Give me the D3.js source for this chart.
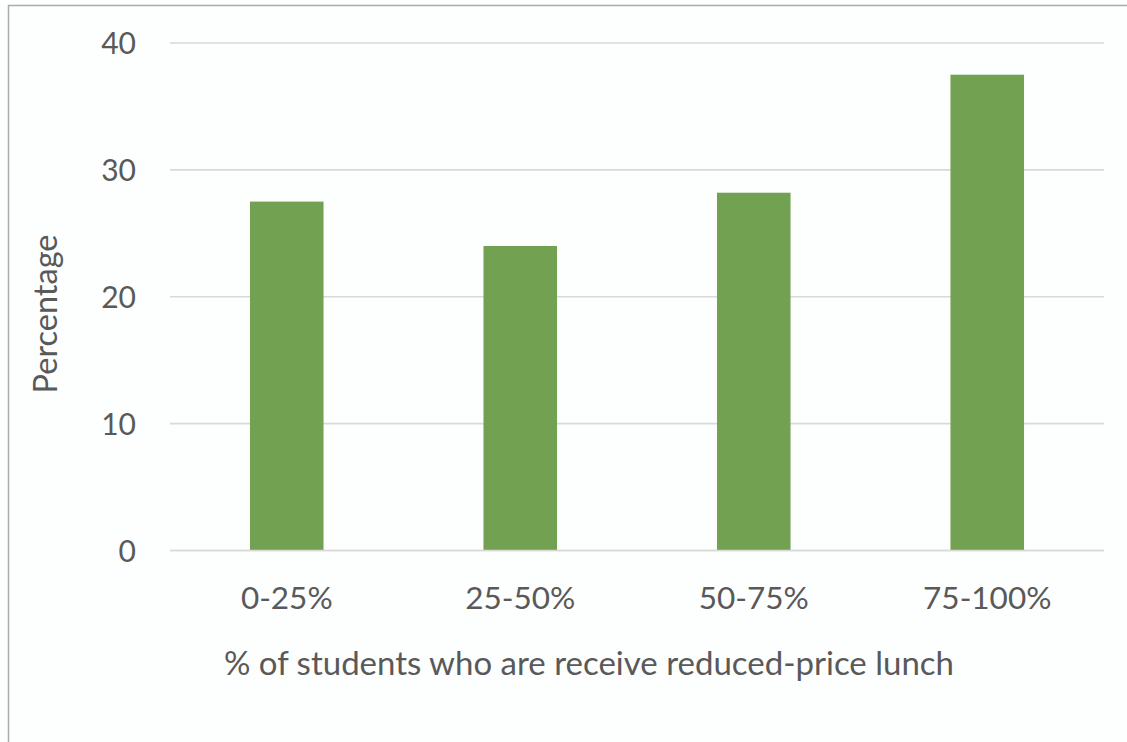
<!DOCTYPE html>
<html>
<head>
<meta charset="utf-8">
<script src="https://d3js.org/d3.v7.min.js"></script>
<style>
  html, body { margin: 0; padding: 0; background: #fdfefe; }
  svg { display: block; }
</style>
</head>
<body>
<svg id="chart" width="1127" height="742"></svg>
<script>
// Share of students by reduced-price lunch bracket
const categories = ["0-25%", "25-50%", "50-75%", "75-100%"];
const values = [27.5, 24.0, 28.2, 37.5];
const yTicks = [0, 10, 20, 30, 40];
const xTitle = "% of students who are receive reduced-price lunch";
const yTitle = "Percentage";

const W = 1127, H = 742;
const plot = { left: 170, right: 1104, top: 43, bottom: 550.5 };
const font = "Lato, 'Open Sans', sans-serif";
const textColor = "#595959";

const svg = d3.select("#chart");

// outer frame (open on the right and bottom edges of the page)
svg.append("path")
  .attr("d", `M8.5,${H} V5.5 H${W}`)
  .attr("fill", "none")
  .attr("stroke", "#ababab")
  .attr("stroke-width", 1.5);

const x = d3.scaleBand()
  .domain(categories)
  .range([plot.left, plot.right])
  .paddingInner(0.685)
  .paddingOuter(0.3425);

const y = d3.scaleLinear()
  .domain([0, 40])
  .range([plot.bottom, plot.top]);

// horizontal gridlines
svg.append("g")
  .selectAll("line")
  .data(yTicks)
  .join("line")
  .attr("x1", plot.left)
  .attr("x2", plot.right)
  .attr("y1", d => y(d))
  .attr("y2", d => y(d))
  .attr("stroke", "#d9d9d9")
  .attr("stroke-width", 1.6);

// bars
svg.append("g")
  .selectAll("rect")
  .data(values)
  .join("rect")
  .attr("x", (d, i) => x(categories[i]))
  .attr("width", x.bandwidth())
  .attr("y", d => y(d))
  .attr("height", d => y(0) - y(d))
  .attr("fill", "#71a151");

// zero line drawn above the bars
svg.append("line")
  .attr("x1", plot.left).attr("x2", plot.right)
  .attr("y1", y(0)).attr("y2", y(0))
  .attr("stroke", "#d9d9d9")
  .attr("stroke-width", 1.6);

// y axis labels
const yAxis = d3.axisLeft(y).tickValues(yTicks).tickSize(0).tickPadding(0);
const gy = svg.append("g")
  .attr("transform", `translate(136,0)`)
  .call(yAxis);
gy.select(".domain").remove();
gy.selectAll("text")
  .attr("font-family", font)
  .attr("font-size", 30)
  .attr("fill", textColor)
  .attr("dy", "0.35em");

// x axis labels
const xAxis = d3.axisBottom(x).tickSize(0).tickPadding(0);
const gx = svg.append("g")
  .attr("transform", `translate(0,598)`)
  .call(xAxis);
gx.select(".domain").remove();
gx.selectAll("text")
  .attr("font-family", font)
  .attr("font-size", 31.5)
  .attr("fill", textColor)
  .attr("dy", "0.35em");

// axis titles
svg.append("text")
  .attr("x", 589)
  .attr("y", 663)
  .attr("dy", "0.35em")
  .attr("text-anchor", "middle")
  .attr("font-family", font)
  .attr("font-size", 33)
  .attr("fill", textColor)
  .text(xTitle);

svg.append("text")
  .attr("transform", "translate(46,314) rotate(-90)")
  .attr("dy", "0.35em")
  .attr("text-anchor", "middle")
  .attr("font-family", font)
  .attr("font-size", 32.5)
  .attr("fill", textColor)
  .text(yTitle);
</script>
</body>
</html>
